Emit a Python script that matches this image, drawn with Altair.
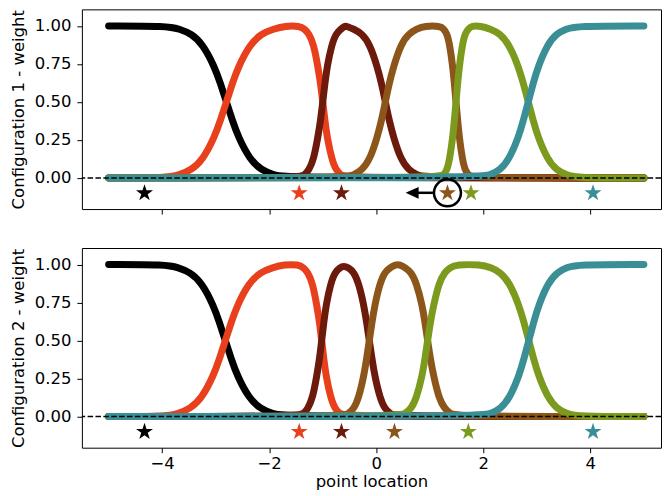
import altair as alt
import pandas as pd

# ---------------- data ----------------
NAMES = ["k0", "k1", "k2", "k3", "k4", "k5"]
COLORS = ["#000000", "#e8401c", "#6b1a0c", "#8c5519", "#7b9a1e", "#3a8f96"]

# weight values across one transition (rising / falling)
RISE = [0.0, 0.02, 0.05, 0.12, 0.27, 0.38, 0.50, 0.62, 0.73, 0.88, 0.95, 0.98, 1.0]
FALL = [1.0, 0.98, 0.95, 0.88, 0.73, 0.62, 0.50, 0.38, 0.27, 0.12, 0.05, 0.02, 0.0]

# x positions of the transitions, configuration 1
P1_T1 = [-3.90, -3.68, -3.46, -3.24, -3.02, -2.91, -2.80, -2.69, -2.58, -2.36, -2.14, -1.92, -1.70]
P1_T2 = [-1.43, -1.34, -1.26, -1.17, -1.09, -1.04, -1.00, -0.96, -0.92, -0.83, -0.75, -0.66, -0.58]
P1_T3 = [-0.57, -0.42, -0.27, -0.12, 0.02, 0.10, 0.17, 0.24, 0.32, 0.46, 0.61, 0.76, 0.90]
P1_T4 = [1.20, 1.26, 1.32, 1.37, 1.43, 1.46, 1.49, 1.52, 1.55, 1.61, 1.66, 1.72, 1.78]
P1_T5 = [1.95, 2.13, 2.31, 2.48, 2.66, 2.75, 2.84, 2.93, 3.02, 3.20, 3.37, 3.55, 3.73]

# x positions of the transitions, configuration 2
P2_T1 = [-3.92, -3.70, -3.48, -3.26, -3.04, -2.93, -2.82, -2.71, -2.60, -2.38, -2.16, -1.94, -1.72]
P2_T2 = [-1.45, -1.36, -1.28, -1.19, -1.11, -1.06, -1.02, -0.98, -0.94, -0.85, -0.77, -0.68, -0.60]
P2_T3 = [-0.62, -0.52, -0.42, -0.33, -0.23, -0.18, -0.13, -0.08, -0.03, 0.07, 0.16, 0.26, 0.36]
P2_T4 = [0.44, 0.54, 0.65, 0.75, 0.86, 0.91, 0.96, 1.01, 1.07, 1.17, 1.28, 1.38, 1.49]
P2_T5 = [1.96, 2.14, 2.32, 2.49, 2.67, 2.76, 2.85, 2.94, 3.03, 3.21, 3.38, 3.56, 3.74]

X_START = [-5.0]
X_END = [5.0]

# star (point) locations
STARS_P1 = [-4.33, -1.44, -0.65, 1.33, 1.77, 4.05]
STARS_P2 = [-4.33, -1.44, -0.65, 0.34, 1.72, 4.05]
STAR_Y = -0.10

# annotation in configuration 1 (circle round the moved point, arrow to the left)
CIRCLE_X = [1.33]
CIRCLE_Y = [-0.098]
ARROW_X1 = [0.78]
ARROW_X2 = [1.08]
ARROW_HEAD_X = [0.67]

Y_TICKS = [0.0, 0.25, 0.5, 0.75, 1.0]
X_TICKS = [-4, -2, 0, 2, 4]

# ---------------- curves ----------------
curves_p1 = [
    (X_START + P1_T1 + X_END, [1.0] + FALL + [0.0]),
    (X_START + P1_T1 + P1_T2 + X_END, [0.0] + RISE + FALL + [0.0]),
    (X_START + P1_T2 + P1_T3 + X_END, [0.0] + RISE + FALL + [0.0]),
    (X_START + P1_T3 + P1_T4 + X_END, [0.0] + RISE + FALL + [0.0]),
    (X_START + P1_T4 + P1_T5 + X_END, [0.0] + RISE + FALL + [0.0]),
    (X_START + P1_T5 + X_END, [0.0] + RISE + [1.0]),
]
curves_p2 = [
    (X_START + P2_T1 + X_END, [1.0] + FALL + [0.0]),
    (X_START + P2_T1 + P2_T2 + X_END, [0.0] + RISE + FALL + [0.0]),
    (X_START + P2_T2[:-1] + [-0.61] + P2_T3[1:] + X_END, [0.0] + RISE[:-1] + [0.99] + FALL[1:] + [0.0]),
    (X_START + P2_T3 + P2_T4 + X_END, [0.0] + RISE + FALL + [0.0]),
    (X_START + P2_T4 + P2_T5 + X_END, [0.0] + RISE + FALL + [0.0]),
    (X_START + P2_T5 + X_END, [0.0] + RISE + [1.0]),
]

STAR = ("M0,-1L0.2245,-0.309L0.951,-0.309L0.363,0.118L0.588,0.809L0,0.382"
        "L-0.588,0.809L-0.363,0.118L-0.951,-0.309L-0.2245,-0.309Z")
ARROW_HEAD = "M-1,0L1,-0.9L1,0.9Z"

X_SCALE = alt.Scale(domain=[-5.5, 5.32], nice=False, zero=False)
Y_SCALE = alt.Scale(domain=[-0.205, 1.109], nice=False, zero=False)

W, H = 580, 200
FS = 16.5


def make_panel(curves, stars, ytitle, bottom, annotate):
    if bottom:
        xaxis = alt.Axis(values=X_TICKS, labelExpr="replace(datum.label, '-', '\u2212')",
                         title="point location", labelPadding=3, titlePadding=1)
    else:
        xaxis = alt.Axis(values=X_TICKS, labels=False)
    yaxis = alt.Axis(values=Y_TICKS, format=".2f", title=ytitle)
    xenc = alt.X("x:Q", scale=X_SCALE, axis=xaxis, title="point location" if bottom else None)
    yenc = alt.Y("y:Q", scale=Y_SCALE, axis=yaxis, title=ytitle)

    layers = []
    for (xs, ys), col in zip(curves, COLORS):
        df = pd.DataFrame({"x": xs, "y": ys})
        layers.append(
            alt.Chart(df).mark_line(color=col, strokeWidth=7, strokeCap="round",
                                    strokeJoin="round", interpolate="basis")
            .encode(x=xenc, y=yenc)
        )
    zero = pd.DataFrame({"y": [0.0]})
    layers.append(
        alt.Chart(zero).mark_rule(color="black", strokeDash=[5.5, 2.4], strokeWidth=1.5)
        .encode(y=alt.Y("y:Q", scale=Y_SCALE))
    )
    sdf = pd.DataFrame({"x": stars, "y": [STAR_Y] * len(stars), "k": NAMES})
    layers.append(
        alt.Chart(sdf).mark_point(shape=STAR, filled=True, size=320, opacity=1, strokeWidth=0)
        .encode(x=xenc, y=yenc,
                color=alt.Color("k:N", scale=alt.Scale(domain=NAMES, range=COLORS), legend=None))
    )
    if annotate:
        cdf = pd.DataFrame({"x": CIRCLE_X, "y": CIRCLE_Y})
        layers.append(
            alt.Chart(cdf).mark_point(shape="circle", filled=False, size=729, color="black",
                                      strokeWidth=2.5, opacity=1)
            .encode(x=xenc, y=yenc)
        )
        adf = pd.DataFrame({"x": ARROW_X1, "x2": ARROW_X2, "y": CIRCLE_Y})
        layers.append(
            alt.Chart(adf).mark_rule(color="black", strokeWidth=2.5)
            .encode(x=xenc, x2="x2:Q", y=yenc)
        )
        hdf = pd.DataFrame({"x": ARROW_HEAD_X, "y": CIRCLE_Y})
        layers.append(
            alt.Chart(hdf).mark_point(shape=ARROW_HEAD, filled=True, size=169, color="black",
                                      opacity=1, strokeWidth=0)
            .encode(x=xenc, y=yenc)
        )
    return alt.layer(*layers).properties(width=W, height=H)


top = make_panel(curves_p1, STARS_P1, "Configuration 1 - weight", False, True)
bot = make_panel(curves_p2, STARS_P2, "Configuration 2 - weight", True, False)

chart = (
    alt.vconcat(top, bot, spacing=32)
    .properties(padding={"left": 1, "top": 0, "right": 0, "bottom": 0})
    .configure_view(stroke="black", strokeWidth=1)
    .configure_axis(
        labelFont="DejaVu Sans", titleFont="DejaVu Sans",
        labelFontSize=FS, titleFontSize=FS, titleFontWeight="normal",
        labelColor="black", titleColor="black",
        tickColor="black", tickSize=5, tickWidth=1,
        domain=False, grid=False, labelPadding=6, titlePadding=8,
    )
)

chart.save("out.html", embed_options={"renderer": "svg", "actions": False})
